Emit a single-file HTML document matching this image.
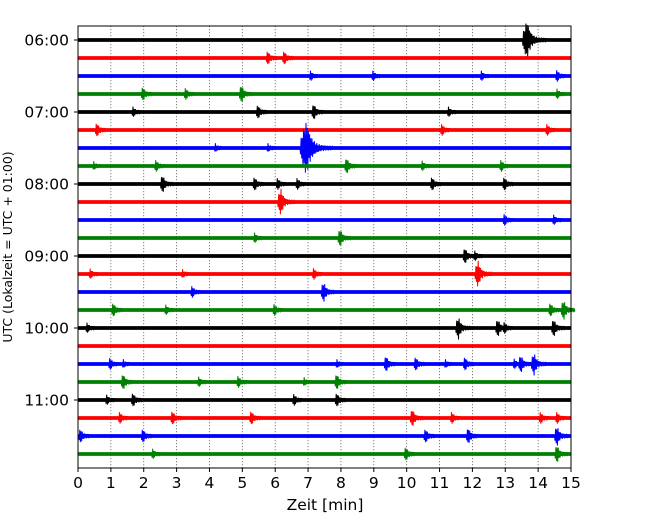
<!DOCTYPE html>
<html><head><meta charset="utf-8"><style>
body{margin:0;background:#fff;font-family:"DejaVu Sans","Liberation Sans",sans-serif}
</style></head><body>
<svg id="c" width="650" height="520" xmlns="http://www.w3.org/2000/svg" font-family="'DejaVu Sans','Liberation Sans',sans-serif">
<rect width="650" height="520" fill="#fff"/>
<g id="grid"></g><g id="traces"></g><g id="axes"></g>
</svg>
<script>
const rowLabels=["06:00","07:00","08:00","09:00","10:00","11:00"];
const xTicks=[0,1,2,3,4,5,6,7,8,9,10,11,12,13,14,15];
const colors=["#000000","#ff0000","#0000ff","#008000"];
const rowCount=24;
// events per row: [minute, amplitude]
const events=[
 [[13.7,18]],
 [[5.8,6],[6.3,6]],
 [[7.1,4],[9.0,4],[12.3,4],[14.6,5]],
 [[2.0,6],[3.3,5],[5.0,8],[14.6,4]],
 [[1.7,4],[5.5,6],[7.2,7],[11.3,4]],
 [[0.6,6],[11.1,5],[14.3,5]],
 [[4.2,3],[5.8,3],[7.0,26]],
 [[0.5,3],[2.4,5],[8.2,7],[10.5,4],[12.9,5]],
 [[2.6,8],[5.4,6],[6.1,5],[6.7,5],[10.8,6],[13.0,6]],
 [[6.2,12]],
 [[13.0,5],[14.5,4]],
 [[5.4,4],[8.0,8]],
 [[11.8,7],[12.1,4]],
 [[0.4,4],[3.2,3],[7.2,5],[12.2,12]],
 [[3.5,5],[7.5,9]],
 [[1.1,6],[2.7,4],[6.0,5],[14.4,6],[14.8,9]],
 [[0.3,4],[11.6,10],[12.8,8],[13.0,5],[14.5,8]],
 [],
 [[1.0,5],[1.4,3],[7.9,3],[9.4,7],[10.3,6],[11.2,3],[11.8,6],[13.3,4],[13.5,8],[13.9,10]],
 [[1.4,7],[3.7,4],[4.9,5],[6.9,3],[7.9,7]],
 [[0.9,4],[1.7,6],[6.6,5],[7.9,6]],
 [[1.3,5],[2.9,6],[5.3,6],[10.2,8],[11.4,5],[14.1,5],[14.6,5]],
 [[0.1,6],[2.0,6],[10.6,6],[11.9,7],[14.6,9]],
 [[2.3,4],[10.0,6],[14.6,8]]
];
const L=78,R=571,T=26,B=468,Y0=40,DY=18;
const xs=m=>L+(R-L)*m/15, ys=r=>Y0+DY*r;
const NS="http://www.w3.org/2000/svg";
function mk(t,a,p){const e=document.createElementNS(NS,t);for(const k in a)e.setAttribute(k,a[k]);p.appendChild(e);return e;}
const grid=document.getElementById('grid'),tr=document.getElementById('traces'),ax=document.getElementById('axes');
xTicks.forEach(v=>{if(v>0&&v<15){const g=mk('line',{x1:xs(v),x2:xs(v),y1:T,y2:B,stroke:'#666','stroke-width':0.8,'stroke-dasharray':'1.2,1.8'},grid);

}});
for(let r=0;r<rowCount;r++){
 const c=colors[r%4],y=ys(r);
 const base=mk('line',{x1:L,x2:R,y1:y,y2:y,stroke:c,'stroke-width':3.8},tr);
 
 
 (events[r]||[]).forEach(ev=>{
  const x0=xs(ev[0]),a=ev[1],w=4+a*1.1;
  let d='';
  const n=Math.round(w/0.6);
  for(let i=0;i<=n;i++){
   const k=i/n,xx=x0-w*0.25+k*w;
   const env=a*(k<0.2?Math.pow(k/0.2,0.7):Math.exp(-(k-0.2)*7))+2.2;
   const s=(i%2?1:-1)*env*(0.55+0.45*Math.abs(Math.sin(i*2.3)));
   d+=(i?'L':'M')+xx.toFixed(1)+','+(y+s).toFixed(1);
  }
  const p=mk('path',{d:d,stroke:c,'stroke-width':1,fill:'none'},tr);
  
  
 });
}
const frame=mk('rect',{x:L,y:T,width:R-L,height:B-T,fill:'none',stroke:'#000','stroke-width':1},ax);


xTicks.forEach(v=>{
 mk('line',{x1:xs(v),x2:xs(v),y1:B,y2:B+4,stroke:'#000'},ax);
 const t=mk('text',{x:xs(v),y:B+20,'text-anchor':'middle','font-size':15.5},ax);t.textContent=v;
 
 
});
rowLabels.forEach((s,i)=>{
 const y=ys(i*4);
 mk('line',{x1:L-4,x2:L,y1:y,y2:y,stroke:'#000'},ax);
 const t=mk('text',{x:L-9,y:y+5.5,'text-anchor':'end','font-size':15.5},ax);t.textContent=s;
 
 
});
const xl=mk('text',{x:325,y:510,'text-anchor':'middle','font-size':15.5},ax);xl.textContent='Zeit  [min]';


const yl=mk('text',{x:12,y:247,'text-anchor':'middle','font-size':12.5,transform:'rotate(-90 12 247)'},ax);yl.textContent='UTC (Lokalzeit = UTC + 01:00)';


</script>
</body></html>
